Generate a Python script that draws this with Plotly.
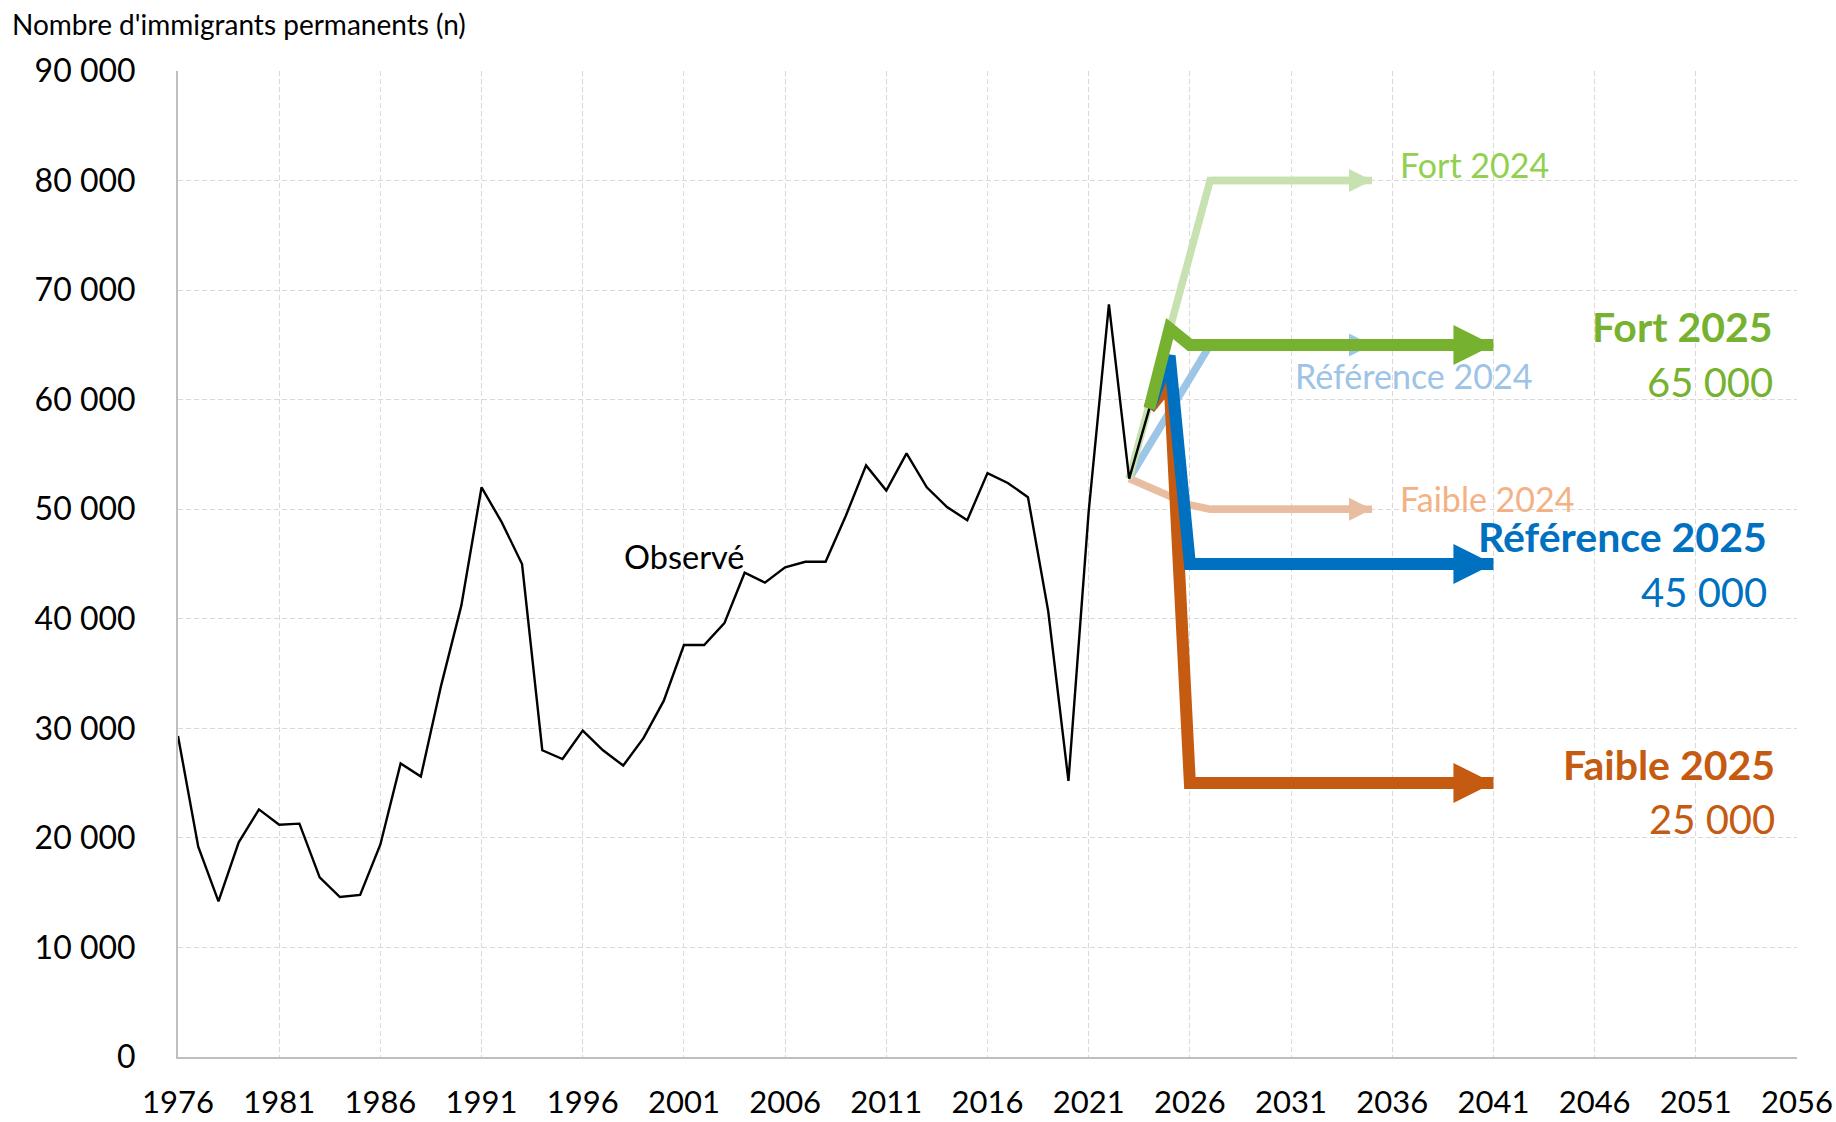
import plotly.graph_objects as go

FONT = "Lato"

# ---------------- data ----------------
years_obs = list(range(1976, 2025))
observed = [29300, 19200, 14200, 19600, 22600, 21200, 21300, 16400, 14600, 14800,
            19400, 26800, 25600, 33900, 41200, 52000, 48800, 45000, 28000, 27200,
            29800, 28000, 26600, 29100, 32500, 37600, 37600, 39600, 44200, 43300,
            44700, 45200, 45200, 49400, 54000, 51700, 55100, 52000, 50200, 49000,
            53300, 52400, 51100, 40700, 25200, 49800, 68700, 52800, 59200]

fort24_years = [2023, 2027, 2035]
fort24_vals = [52800, 80000, 80000]
ref24_years = [2023, 2027, 2035]
ref24_vals = [52800, 65000, 65000]
faible24_years = [2023, 2024, 2025, 2026, 2027, 2035]
faible24_vals = [52800, 52000, 51200, 50400, 50000, 50000]

fort25_years = [2024, 2025, 2026, 2041]
fort25_vals = [59200, 66500, 65000, 65000]
ref25_years = [2024, 2025, 2026, 2041]
ref25_vals = [59200, 64000, 45000, 45000]
faible25_years = [2024, 2025, 2026, 2041]
faible25_vals = [59200, 61500, 25000, 25000]

x_ticks = list(range(1976, 2057, 5))

# ---------------- styles ----------------
GREEN = "#76B230"
BLUE = "#0070C0"
ORANGE = "#C55A11"
LGREEN_LINE = "#C8E1B0"
LBLUE_LINE = "#9DC5E6"
LORANGE_LINE = "#E8BDA0"
LGREEN_TXT = "#92D050"
LBLUE_TXT = "#9DC3E6"
LORANGE_TXT = "#F4B183"

W, H = 1836, 1122


def fmt(v):
    return f"{v:,}".replace(",", " ")


fig = go.Figure()


def add_line(x, y, color, width, backoff=0):
    fig.add_trace(go.Scatter(
        x=x, y=y, mode="lines",
        line=dict(color=color, width=width, backoff=backoff),
        hoverinfo="skip", showlegend=False))


def add_head(x, y, color, width, scale):
    # arrow head on the final segment of a series (from its last two points)
    fig.add_annotation(
        x=x[-1], y=y[-1], ax=x[-2], ay=y[-2], xref="x", yref="y",
        axref="x", ayref="y", text="", showarrow=True, arrowhead=2,
        arrowwidth=width, arrowsize=scale / width, arrowcolor=color,
        standoff=0, startstandoff=0)


# 2024 scenarios (pale)
add_line(ref24_years, ref24_vals, LBLUE_LINE, 7.5, 12)
add_line(faible24_years, faible24_vals, LORANGE_LINE, 7.5, 12)
add_line(fort24_years, fort24_vals, LGREEN_LINE, 7.5, 12)

# observed
add_line(years_obs, observed, "black", 2.4)

# 2025 scenarios
add_line(faible25_years, faible25_vals, ORANGE, 12, 20)
add_line(ref25_years, ref25_vals, BLUE, 12, 20)
add_line(fort25_years, fort25_vals, GREEN, 12, 20)

add_head(ref24_years, ref24_vals, LBLUE_LINE, 7.5, 4.6)
add_head(faible24_years, faible24_vals, LORANGE_LINE, 7.5, 4.6)
add_head(fort24_years, fort24_vals, LGREEN_LINE, 7.5, 4.6)
add_head(faible25_years, faible25_vals, ORANGE, 12, 8)
add_head(ref25_years, ref25_vals, BLUE, 12, 8)
add_head(fort25_years, fort25_vals, GREEN, 12, 8)

# labels
labels = [
    ("Fort 2024", 2036.3, 81450, LGREEN_TXT, 34, "left"),
    ("Référence 2024", 2031.1, 62200, LBLUE_TXT, 34, "left"),
    ("Faible 2024", 2036.3, 50970, LORANGE_TXT, 34, "left"),
    ("<b>Fort 2025</b>", 2054.9, 66670, GREEN, 41, "right"),
    (fmt(fort25_vals[-1]), 2054.9, 61650, GREEN, 40, "right"),
    ("<b>Référence 2025</b>", 2054.6, 47530, BLUE, 41, "right"),
    (fmt(ref25_vals[-1]), 2054.6, 42470, BLUE, 40, "right"),
    ("<b>Faible 2025</b>", 2055.0, 26700, ORANGE, 41, "right"),
    (fmt(faible25_vals[-1]), 2055.0, 21700, ORANGE, 40, "right"),
    ("Observé", 2001.0, 45700, "black", 32.5, "center"),
]
for text, lx, ly, col, size, anchor in labels:
    fig.add_annotation(x=lx, y=ly, xref="x", yref="y", text=text,
                       showarrow=False, xanchor=anchor, yanchor="middle",
                       font=dict(family=FONT, size=size, color=col))

fig.update_layout(
    width=W, height=H,
    margin=dict(l=178, r=39, t=71, b=65, autoexpand=False),
    plot_bgcolor="white", paper_bgcolor="white",
    separators=", ",
    hovermode=False,
    font=dict(family=FONT, color="black"),
    title=dict(text="Nombre d'immigrants permanents (n)",
               x=12 / W, xanchor="left", xref="container",
               y=1 - 25 / H, yanchor="middle", yref="container",
               pad=dict(l=0, r=0, t=0, b=0),
               font=dict(family=FONT, size=28, color="black")),
    xaxis=dict(range=[1976, 2056], tickmode="array", tickvals=x_ticks,
               tickformat="d", showgrid=True, gridcolor="#d9d9d9",
               griddash="5px,3px", gridwidth=1, showline=True,
               linecolor="#bfbfbf", linewidth=2, zeroline=False, ticks="",
               tickfont=dict(family=FONT, size=31, color="black"),
               ticklabelstandoff=17, automargin=False),
    yaxis=dict(range=[0, 90000], tick0=0, dtick=10000, tickmode="linear",
               tickformat=",d", showgrid=True, gridcolor="#d9d9d9",
               griddash="5px,3px", gridwidth=1, showline=True,
               linecolor="#bfbfbf", linewidth=2, zeroline=False, ticks="",
               tickfont=dict(family=FONT, size=32, color="black"),
               ticklabelstandoff=34, automargin=False),
)

# remove the default 8px page margin so the figure fills the window exactly
fig.write_html("out.html",
               config={"displayModeBar": False, "staticPlot": True},
               post_script="document.body.style.margin='0';"
                           "document.body.style.overflow='hidden';")
